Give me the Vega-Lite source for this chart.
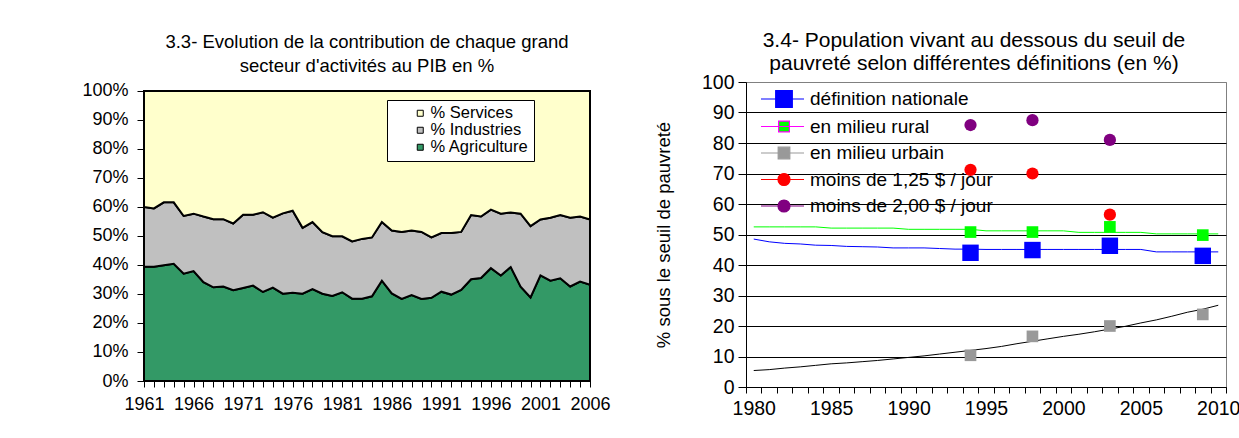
{
  "$schema": "https://vega.github.io/schema/vega-lite/v6.json",
  "background": "white",
  "padding": {"left": 81, "top": 29, "right": 0, "bottom": 5},
  "config": {
    "font": "Liberation Sans",
    "view": {"stroke": "#808080"},
    "axis": {"labelColor": "black", "titleColor": "black", "domainColor": "black", "tickColor": "black", "titleFontWeight": "normal", "labelFont": "Liberation Sans", "titleFont": "Liberation Sans"},
    "title": {"color": "black", "fontWeight": "normal", "font": "Liberation Sans", "anchor": "middle"},
    "legend": {"labelColor": "black", "labelFont": "Liberation Sans"}
  },
  "datasets": {
    "pib": [
      {"year": 1961, "% Agriculture": 39.4, "% Industries": 20.6, "% Services": 40.0},
      {"year": 1962, "% Agriculture": 39.4, "% Industries": 20.1, "% Services": 40.5},
      {"year": 1963, "% Agriculture": 39.9, "% Industries": 21.7, "% Services": 38.4},
      {"year": 1964, "% Agriculture": 40.4, "% Industries": 21.2, "% Services": 38.4},
      {"year": 1965, "% Agriculture": 37.0, "% Industries": 19.9, "% Services": 43.1},
      {"year": 1966, "% Agriculture": 37.9, "% Industries": 19.8, "% Services": 42.3},
      {"year": 1967, "% Agriculture": 34.1, "% Industries": 22.6, "% Services": 43.3},
      {"year": 1968, "% Agriculture": 32.3, "% Industries": 23.5, "% Services": 44.2},
      {"year": 1969, "% Agriculture": 32.6, "% Industries": 23.2, "% Services": 44.2},
      {"year": 1970, "% Agriculture": 31.3, "% Industries": 23.0, "% Services": 45.7},
      {"year": 1971, "% Agriculture": 32.1, "% Industries": 25.2, "% Services": 42.7},
      {"year": 1972, "% Agriculture": 32.9, "% Industries": 24.4, "% Services": 42.7},
      {"year": 1973, "% Agriculture": 30.7, "% Industries": 27.5, "% Services": 41.8},
      {"year": 1974, "% Agriculture": 32.2, "% Industries": 24.1, "% Services": 43.7},
      {"year": 1975, "% Agriculture": 30.1, "% Industries": 27.7, "% Services": 42.2},
      {"year": 1976, "% Agriculture": 30.4, "% Industries": 28.3, "% Services": 41.3},
      {"year": 1977, "% Agriculture": 30.1, "% Industries": 22.7, "% Services": 47.2},
      {"year": 1978, "% Agriculture": 31.7, "% Industries": 23.1, "% Services": 45.2},
      {"year": 1979, "% Agriculture": 30.1, "% Industries": 21.2, "% Services": 48.7},
      {"year": 1980, "% Agriculture": 29.3, "% Industries": 20.6, "% Services": 50.1},
      {"year": 1981, "% Agriculture": 30.6, "% Industries": 19.3, "% Services": 50.1},
      {"year": 1982, "% Agriculture": 28.4, "% Industries": 19.7, "% Services": 51.9},
      {"year": 1983, "% Agriculture": 28.4, "% Industries": 20.6, "% Services": 51.0},
      {"year": 1984, "% Agriculture": 29.2, "% Industries": 20.3, "% Services": 50.5},
      {"year": 1985, "% Agriculture": 34.6, "% Industries": 20.2, "% Services": 45.2},
      {"year": 1986, "% Agriculture": 30.2, "% Industries": 21.7, "% Services": 48.1},
      {"year": 1987, "% Agriculture": 28.3, "% Industries": 23.1, "% Services": 48.6},
      {"year": 1988, "% Agriculture": 29.6, "% Industries": 22.3, "% Services": 48.1},
      {"year": 1989, "% Agriculture": 28.3, "% Industries": 23.1, "% Services": 48.6},
      {"year": 1990, "% Agriculture": 28.7, "% Industries": 20.8, "% Services": 50.5},
      {"year": 1991, "% Agriculture": 30.8, "% Industries": 20.2, "% Services": 49.0},
      {"year": 1992, "% Agriculture": 29.8, "% Industries": 21.2, "% Services": 49.0},
      {"year": 1993, "% Agriculture": 31.4, "% Industries": 20.0, "% Services": 48.6},
      {"year": 1994, "% Agriculture": 35.1, "% Industries": 22.1, "% Services": 42.8},
      {"year": 1995, "% Agriculture": 35.5, "% Industries": 21.2, "% Services": 43.3},
      {"year": 1996, "% Agriculture": 38.9, "% Industries": 20.2, "% Services": 40.9},
      {"year": 1997, "% Agriculture": 36.4, "% Industries": 21.3, "% Services": 42.3},
      {"year": 1998, "% Agriculture": 39.3, "% Industries": 18.8, "% Services": 41.9},
      {"year": 1999, "% Agriculture": 32.5, "% Industries": 25.2, "% Services": 42.3},
      {"year": 2000, "% Agriculture": 28.8, "% Industries": 24.6, "% Services": 46.6},
      {"year": 2001, "% Agriculture": 36.4, "% Industries": 19.3, "% Services": 44.3},
      {"year": 2002, "% Agriculture": 34.6, "% Industries": 21.7, "% Services": 43.7},
      {"year": 2003, "% Agriculture": 35.4, "% Industries": 21.8, "% Services": 42.8},
      {"year": 2004, "% Agriculture": 32.6, "% Industries": 23.7, "% Services": 43.7},
      {"year": 2005, "% Agriculture": 34.3, "% Industries": 22.4, "% Services": 43.3},
      {"year": 2006, "% Agriculture": 33.2, "% Industries": 22.5, "% Services": 44.3}
    ],
    "tendances": [
      {"year": 1980, "définition nationale": 48.5, "en milieu rural": 52.5, "en milieu urbain": 5.4},
      {"year": 1981, "définition nationale": 47.6, "en milieu rural": 52.5, "en milieu urbain": 5.7},
      {"year": 1982, "définition nationale": 47.1, "en milieu rural": 52.5, "en milieu urbain": 6.2},
      {"year": 1983, "définition nationale": 46.9, "en milieu rural": 52.5, "en milieu urbain": 6.6},
      {"year": 1984, "définition nationale": 46.5, "en milieu rural": 52.5, "en milieu urbain": 7.1},
      {"year": 1985, "définition nationale": 46.4, "en milieu rural": 52.1, "en milieu urbain": 7.6},
      {"year": 1986, "définition nationale": 46.1, "en milieu rural": 52.1, "en milieu urbain": 7.9},
      {"year": 1987, "définition nationale": 46.0, "en milieu rural": 52.1, "en milieu urbain": 8.3},
      {"year": 1988, "définition nationale": 45.9, "en milieu rural": 52.1, "en milieu urbain": 8.7},
      {"year": 1989, "définition nationale": 45.6, "en milieu rural": 52.1, "en milieu urbain": 9.2},
      {"year": 1990, "définition nationale": 45.6, "en milieu rural": 51.7, "en milieu urbain": 9.7},
      {"year": 1991, "définition nationale": 45.6, "en milieu rural": 51.7, "en milieu urbain": 10.2},
      {"year": 1992, "définition nationale": 45.4, "en milieu rural": 51.7, "en milieu urbain": 10.8},
      {"year": 1993, "définition nationale": 45.2, "en milieu rural": 51.7, "en milieu urbain": 11.4},
      {"year": 1994, "définition nationale": 45.2, "en milieu rural": 51.7, "en milieu urbain": 12.0},
      {"year": 1995, "définition nationale": 45.1, "en milieu rural": 51.2, "en milieu urbain": 12.6},
      {"year": 1996, "définition nationale": 45.1, "en milieu rural": 51.2, "en milieu urbain": 13.3},
      {"year": 1997, "définition nationale": 45.1, "en milieu rural": 51.2, "en milieu urbain": 14.2},
      {"year": 1998, "définition nationale": 45.1, "en milieu rural": 51.2, "en milieu urbain": 15.0},
      {"year": 1999, "définition nationale": 45.1, "en milieu rural": 51.2, "en milieu urbain": 15.8},
      {"year": 2000, "définition nationale": 45.1, "en milieu rural": 51.2, "en milieu urbain": 16.6},
      {"year": 2001, "définition nationale": 45.1, "en milieu rural": 50.7, "en milieu urbain": 17.3},
      {"year": 2002, "définition nationale": 45.1, "en milieu rural": 50.7, "en milieu urbain": 18.1},
      {"year": 2003, "définition nationale": 45.1, "en milieu rural": 50.7, "en milieu urbain": 19.0},
      {"year": 2004, "définition nationale": 45.1, "en milieu rural": 50.7, "en milieu urbain": 19.9},
      {"year": 2005, "définition nationale": 45.1, "en milieu rural": 50.7, "en milieu urbain": 21.0},
      {"year": 2006, "définition nationale": 44.3, "en milieu rural": 50.2, "en milieu urbain": 22.0},
      {"year": 2007, "définition nationale": 44.3, "en milieu rural": 50.2, "en milieu urbain": 23.2},
      {"year": 2008, "définition nationale": 44.3, "en milieu rural": 50.2, "en milieu urbain": 24.5},
      {"year": 2009, "définition nationale": 44.3, "en milieu rural": 50.2, "en milieu urbain": 25.5},
      {"year": 2010, "définition nationale": 44.3, "en milieu rural": 50.2, "en milieu urbain": 26.8}
    ],
    "enquetes": [
      {"year": 1994, "series": "définition nationale", "value": 44.0},
      {"year": 1998, "series": "définition nationale", "value": 44.9},
      {"year": 2003, "series": "définition nationale", "value": 46.3},
      {"year": 2009, "series": "définition nationale", "value": 43.0},
      {"year": 1994, "series": "en milieu rural", "value": 50.8},
      {"year": 1998, "series": "en milieu rural", "value": 50.8},
      {"year": 2003, "series": "en milieu rural", "value": 52.5},
      {"year": 2009, "series": "en milieu rural", "value": 49.8},
      {"year": 1994, "series": "en milieu urbain", "value": 10.4},
      {"year": 1998, "series": "en milieu urbain", "value": 16.6},
      {"year": 2003, "series": "en milieu urbain", "value": 20.0},
      {"year": 2009, "series": "en milieu urbain", "value": 23.8},
      {"year": 1994, "series": "moins de 1,25 $ / jour", "value": 71.2},
      {"year": 1998, "series": "moins de 1,25 $ / jour", "value": 70.0},
      {"year": 2003, "series": "moins de 1,25 $ / jour", "value": 56.5},
      {"year": 1994, "series": "moins de 2,00 $ / jour", "value": 85.9},
      {"year": 1998, "series": "moins de 2,00 $ / jour", "value": 87.5},
      {"year": 2003, "series": "moins de 2,00 $ / jour", "value": 81.0}
    ]
  },
  "spacing": 42,
  "resolve": {
    "scale": {"x": "independent", "y": "independent", "color": "independent", "fill": "independent", "stroke": "independent", "shape": "independent"},
    "legend": {"color": "independent", "fill": "independent", "stroke": "independent", "shape": "independent"}
  },
  "hconcat": [
    {
      "width": 446,
      "height": 299,
      "view": {"stroke": null},
      "title": {"text": ["3.3- Evolution de la contribution de chaque grand", "secteur d'activités au PIB en %"], "fontSize": 18.5, "lineHeight": 24, "offset": 6},
      "data": {"name": "pib"},
      "transform": [{"fold": ["% Agriculture", "% Industries", "% Services"], "as": ["sector", "value"]}],
      "mark": {"type": "area", "stroke": "black", "strokeWidth": 2},
      "encoding": {
        "x": {
          "field": "year", "type": "quantitative",
          "scale": {"domain": [1961, 2006], "nice": false, "zero": false},
          "axis": {
            "title": null, "grid": false, "format": "d", "ticks": true, "tickSize": 6, "tickWidth": 1, "labelFontSize": 18, "labelPadding": 8, "labelFlush": false, "labelOverlap": false,
            "values": [1961,1962,1963,1964,1965,1966,1967,1968,1969,1970,1971,1972,1973,1974,1975,1976,1977,1978,1979,1980,1981,1982,1983,1984,1985,1986,1987,1988,1989,1990,1991,1992,1993,1994,1995,1996,1997,1998,1999,2000,2001,2002,2003,2004,2005,2006],
            "labelExpr": "(datum.value - 1961) % 5 === 0 ? datum.label : ''"
          }
        },
        "y": {
          "field": "value", "type": "quantitative", "stack": "normalize",
          "scale": {"domain": [0, 1.031], "nice": false},
          "axis": {"title": null, "grid": false, "domain": false, "ticks": true, "tickWidth": 1, "format": ".0%", "tickSize": 7, "labelFontSize": 18, "labelPadding": 9, "labelOverlap": false, "values": [0, 0.1, 0.2, 0.3, 0.4, 0.5, 0.6, 0.7, 0.8, 0.9, 1]}
        },
        "order": {"field": "sector", "sort": "ascending"},
        "color": {
          "field": "sector", "type": "nominal",
          "scale": {"domain": ["% Services", "% Industries", "% Agriculture"], "range": ["#FFFFCC", "#C0C0C0", "#339966"]},
          "legend": {
            "title": null,
            "orient": "none", "legendX": 243, "legendY": 18,
            "fillColor": "white", "strokeColor": "black", "padding": 5,
            "symbolType": "M3.4,-0.6H4.6V0.6H3.4Z", "symbolSize": 100, "symbolStrokeColor": "black", "symbolStrokeWidth": 1,
            "labelFontSize": 16.5, "labelOffset": 22, "rowPadding": 0
          }
        }
      }
    },
    {
      "width": 480,
      "height": 305,
      "title": {"text": ["3.4- Population vivant au dessous du seuil de", "pauvreté selon différentes définitions (en %)"], "fontSize": 21, "lineHeight": 23, "offset": -2, "dx": -12},
      "encoding": {
        "x": {
          "field": "year", "type": "ordinal",
          "scale": {"type": "band", "paddingInner": 0, "paddingOuter": 0, "domain": [1980,1981,1982,1983,1984,1985,1986,1987,1988,1989,1990,1991,1992,1993,1994,1995,1996,1997,1998,1999,2000,2001,2002,2003,2004,2005,2006,2007,2008,2009,2010]},
          "axis": {"title": null, "ticks": true, "tickWidth": 1, "tickBand": "extent", "labelAngle": 0, "labelOverlap": false, "labelFontSize": 19.5, "tickSize": 6, "labelPadding": 6, "labelExpr": "datum.value % 5 === 0 ? datum.label : ''"}
        },
        "y": {
          "field": "value", "type": "quantitative",
          "scale": {"domain": [0, 100], "nice": false},
          "axis": {
            "values": [0, 10, 20, 30, 40, 50, 60, 70, 80, 90, 100], "grid": true, "labelOverlap": false,
            "gridColor": {"condition": {"test": "datum.value === 100", "value": "#808080"}, "value": "black"},
            "ticks": true, "tickWidth": 1, "tickSize": 8, "labelFontSize": 19.5, "labelPadding": 4,
            "title": "% sous le seuil de pauvreté", "titleFontSize": 18.5, "titlePadding": 28
          }
        }
      },
      "layer": [
        {
          "data": {"values": [{}]},
          "mark": {"type": "rect", "color": "white", "opacity": 1},
          "encoding": {
            "x": {"datum": 1980},
            "x2": {"datum": 1996},
            "y": {"datum": 56.5},
            "y2": {"datum": 99.4}
          }
        },
        {
          "data": {"name": "tendances"},
          "transform": [{"fold": ["définition nationale", "en milieu rural", "en milieu urbain"], "as": ["series", "value"]}],
          "mark": {"type": "line", "strokeWidth": 1},
          "encoding": {
            "color": {"field": "series", "type": "nominal", "scale": {"domain": ["définition nationale", "en milieu rural", "en milieu urbain"], "range": ["#0000FF", "#00FF00", "#000000"]}, "legend": null}
          }
        },
        {
          "data": {"name": "enquetes"},
          "transform": [{"filter": "datum.series === 'définition nationale'"}],
          "mark": {"type": "point", "shape": "square", "filled": true, "size": 270, "color": "#0000FF", "opacity": 1}
        },
        {
          "data": {"name": "enquetes"},
          "transform": [{"filter": "datum.series === 'en milieu rural'"}],
          "mark": {"type": "point", "shape": "square", "filled": true, "size": 136, "color": "#00FF00", "opacity": 1}
        },
        {
          "data": {"name": "enquetes"},
          "transform": [{"filter": "datum.series === 'en milieu urbain'"}],
          "mark": {"type": "point", "shape": "square", "filled": true, "size": 136, "color": "#999999", "opacity": 1}
        },
        {
          "data": {"name": "enquetes"},
          "transform": [{"filter": "datum.series === 'moins de 1,25 $ / jour'"}],
          "mark": {"type": "point", "shape": "circle", "filled": true, "size": 150, "color": "#FF0000", "opacity": 1}
        },
        {
          "data": {"name": "enquetes"},
          "transform": [{"filter": "datum.series === 'moins de 2,00 $ / jour'"}],
          "mark": {"type": "point", "shape": "circle", "filled": true, "size": 150, "color": "#800080", "opacity": 1}
        },
        {
          "data": {"name": "enquetes"},
          "mark": {"type": "point", "filled": true, "opacity": 0},
          "encoding": {
            "fill": {
              "field": "series", "type": "nominal",
              "scale": {"domain": ["définition nationale", "en milieu rural", "en milieu urbain", "moins de 1,25 $ / jour", "moins de 2,00 $ / jour"], "range": ["#0000FF", "#00FF00", "#999999", "#FF0000", "#800080"]},
              "legend": {"title": null, "orient": "none", "legendX": 0, "legendY": 2, "padding": 4, "symbolSize": 400, "symbolStrokeWidth": 1.2, "symbolOpacity": 1, "labelFontSize": 19, "labelOffset": 38, "labelLimit": 400, "rowPadding": 5.5}
            },
            "stroke": {
              "field": "series", "type": "nominal",
              "scale": {"domain": ["définition nationale", "en milieu rural", "en milieu urbain", "moins de 1,25 $ / jour", "moins de 2,00 $ / jour"], "range": ["#0000FF", "#FF00FF", "#999999", "#FF0000", "#800080"]},
              "legend": {"title": null, "orient": "none", "legendX": 0, "legendY": 2, "padding": 4, "symbolSize": 400, "symbolStrokeWidth": 1.2, "symbolOpacity": 1, "labelFontSize": 19, "labelOffset": 38, "labelLimit": 400, "rowPadding": 5.5}
            },
            "shape": {
              "field": "series", "type": "nominal",
              "scale": {"domain": ["définition nationale", "en milieu rural", "en milieu urbain", "moins de 1,25 $ / jour", "moins de 2,00 $ / jour"], "range": ["M0,0H4.3M1.47,-0.83H3.13V0.83H1.47Z", "M0,0H4.3M1.76,-0.54H2.84V0.54H1.76Z", "M0,0H4.3M1.72,-0.58H2.88V0.58H1.72Z", "M0,0H4.3M1.7,0A0.6,0.6 0 1,0 2.9,0A0.6,0.6 0 1,0 1.7,0Z", "M0,0H4.3M1.7,0A0.6,0.6 0 1,0 2.9,0A0.6,0.6 0 1,0 1.7,0Z"]},
              "legend": {"title": null, "orient": "none", "legendX": 0, "legendY": 2, "padding": 4, "symbolSize": 400, "symbolStrokeWidth": 1.2, "symbolOpacity": 1, "labelFontSize": 19, "labelOffset": 38, "labelLimit": 400, "rowPadding": 5.5}
            }
          }
        }
      ]
    }
  ]
}
